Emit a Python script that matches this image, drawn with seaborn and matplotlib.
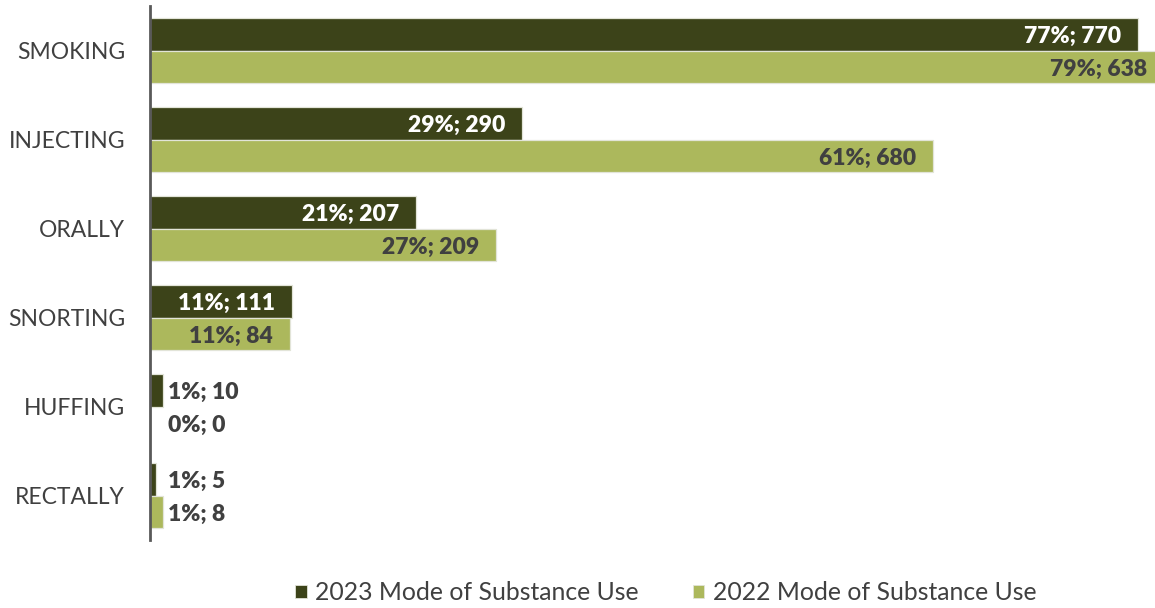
import matplotlib
matplotlib.use("Agg")
import matplotlib.pyplot as plt
import pandas as pd
import seaborn as sns
from matplotlib.patches import Patch

# Mode of substance use, share of respondents (%) and counts
modes = ["SMOKING", "INJECTING", "ORALLY", "SNORTING", "HUFFING", "RECTALLY"]
pct_2023 = [77.0, 29.0, 20.7, 11.1, 1.0, 0.5]
count_2023 = [770, 290, 207, 111, 10, 5]
pct_2022 = [79.0, 61.0, 27.0, 10.9, 0.0, 1.0]
count_2022 = [638, 680, 209, 84, 0, 8]
series = ["2023 Mode of Substance Use", "2022 Mode of Substance Use"]

DARK = "#3c4319"
LIGHT = "#acb85c"
TEXT = "#404040"

sns.set_style("white")
plt.rcParams["font.family"] = ["Lato", "DejaVu Sans"]

df = pd.DataFrame({
    "mode": modes * 2,
    "pct": pct_2023 + pct_2022,
    "series": [series[0]] * len(modes) + [series[1]] * len(modes),
})

fig = plt.figure(figsize=(11.55, 6.08), dpi=100)
ax = fig.add_axes([150 / 1155, 68 / 608, 80 * 12.83 / 1155, 534 / 608])

sns.barplot(
    data=df, y="mode", x="pct", hue="series", order=modes, hue_order=series,
    palette=[DARK, LIGHT], saturation=1, width=0.74, orient="h", errorbar=None,
    edgecolor="#e2e4d8", linewidth=0.9, legend=False, ax=ax,
)

ax.set_xlim(0, 80)
ax.set_ylim(5.5, -0.5)
ax.set_xlabel("")
ax.set_ylabel("")
ax.set_xticks([])
for side in ["top", "right", "bottom"]:
    ax.spines[side].set_visible(False)
ax.spines["left"].set_color("#595959")
ax.spines["left"].set_linewidth(2.0)
ax.tick_params(axis="y", length=0, pad=18, labelsize=16.5, labelcolor=TEXT)


def pct_text(p):
    return f"{int(p + 0.5)}%"


label_sets = [(pct_2023, count_2023, "white"), (pct_2022, count_2022, TEXT)]
for container, (pcts, counts, inside_color) in zip(ax.containers, label_sets):
    for bar, p, n in zip(container, pcts, counts):
        w = bar.get_width()
        yc = bar.get_y() + bar.get_height() / 2
        txt = f"{pct_text(p)}; {n}"
        if p >= 5:
            ax.annotate(txt, (w, yc), xytext=(-12.2, 0), textcoords="offset points",
                        ha="right", va="center_baseline", fontsize=16.5,
                        fontweight="heavy", color=inside_color)
        else:
            ax.annotate(txt, (max(w, 1.0), yc), xytext=(3.6, 0),
                        textcoords="offset points", ha="left",
                        va="center_baseline", fontsize=16.5, fontweight="heavy",
                        color=TEXT)

handles = [Patch(facecolor=DARK, edgecolor="#e2e4d8", linewidth=0.6),
           Patch(facecolor=LIGHT, edgecolor="#e2e4d8", linewidth=0.6)]
fig.legend(handles, series, loc="center", bbox_to_anchor=(666 / 1155, 1 - 593 / 608),
           bbox_transform=fig.transFigure, ncol=2, frameon=False, fontsize=17.8,
           labelcolor=TEXT, handlelength=0.45, handleheight=0.45,
           handletextpad=0.35, columnspacing=2.2, borderpad=0)

fig.savefig("out.png", dpi=100)
